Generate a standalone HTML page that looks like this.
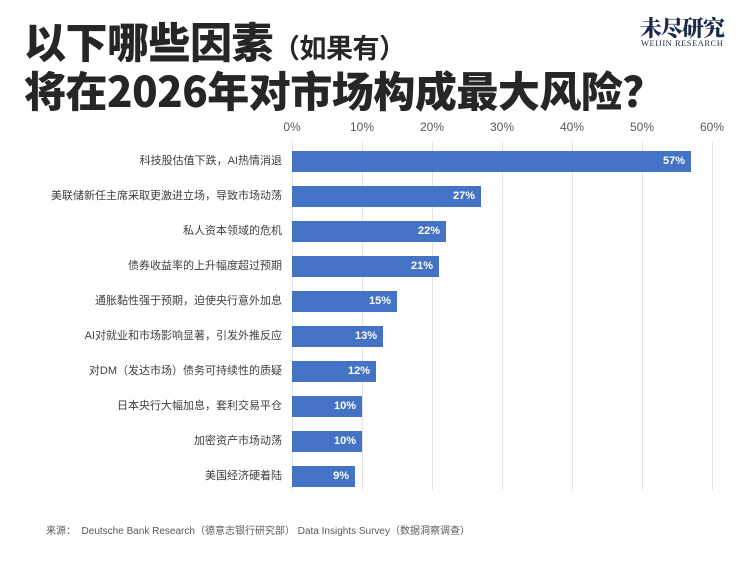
<!DOCTYPE html>
<html><head><meta charset="utf-8"><style>
body{margin:0;width:750px;height:563px;background:#fff;overflow:hidden;position:relative;font-family:"Liberation Sans","Noto Sans CJK SC",sans-serif}
.t{position:absolute;left:24px;font-weight:900;color:#262626;font-family:"Noto Sans CJK SC",sans-serif;white-space:nowrap;letter-spacing:-0.5px}
.ax{position:absolute;top:120px;font-size:12px;color:#595959;width:40px;text-align:center}
.gl{position:absolute;top:142px;width:1px;height:348px;background:#e3e3e3}
.bar{position:absolute;left:292px;height:21px;background:#4472c4;color:#fff;font-weight:bold;font-size:11px;text-align:right;line-height:21px;box-sizing:border-box;padding-right:6px}
.lb{position:absolute;right:468px;font-size:11px;color:#404040;white-space:nowrap;line-height:21px}
</style></head><body>
<div class="t" style="top:16px;font-size:42px;line-height:50px">以下哪些因素<span style="font-size:27px;font-weight:700">（如果有）</span></div>
<div class="t" style="top:65px;font-size:42px;line-height:50px">将在2026年对市场构成最大风险？</div>
<div style="position:absolute;left:640px;top:12px;font-family:'Noto Serif CJK SC',serif;font-weight:900;font-size:22px;color:#1a2a4a;letter-spacing:-1px">未尽研究</div>
<div style="position:absolute;left:641px;top:38px;font-family:'Liberation Serif',serif;font-size:8.5px;color:#1a2a4a;letter-spacing:0.5px">WEIJIN RESEARCH</div>
<div class="ax" style="left:272px">0%</div><div class="ax" style="left:342px">10%</div><div class="ax" style="left:412px">20%</div><div class="ax" style="left:482px">30%</div><div class="ax" style="left:552px">40%</div><div class="ax" style="left:622px">50%</div><div class="ax" style="left:692px">60%</div>
<div class="gl" style="left:292px"></div><div class="gl" style="left:362px"></div><div class="gl" style="left:432px"></div><div class="gl" style="left:502px"></div><div class="gl" style="left:572px"></div><div class="gl" style="left:642px"></div><div class="gl" style="left:712px"></div>
<div class="bar" style="top:151px;width:399px">57%</div><div class="lb" style="top:151px">科技股估值下跌，AI热情消退</div>
<div class="bar" style="top:186px;width:189px">27%</div><div class="lb" style="top:186px">美联储新任主席采取更激进立场，导致市场动荡</div>
<div class="bar" style="top:221px;width:154px">22%</div><div class="lb" style="top:221px">私人资本领域的危机</div>
<div class="bar" style="top:256px;width:147px">21%</div><div class="lb" style="top:256px">债券收益率的上升幅度超过预期</div>
<div class="bar" style="top:291px;width:105px">15%</div><div class="lb" style="top:291px">通胀黏性强于预期，迫使央行意外加息</div>
<div class="bar" style="top:326px;width:91px">13%</div><div class="lb" style="top:326px">AI对就业和市场影响显著，引发外推反应</div>
<div class="bar" style="top:361px;width:84px">12%</div><div class="lb" style="top:361px">对DM（发达市场）债务可持续性的质疑</div>
<div class="bar" style="top:396px;width:70px">10%</div><div class="lb" style="top:396px">日本央行大幅加息，套利交易平仓</div>
<div class="bar" style="top:431px;width:70px">10%</div><div class="lb" style="top:431px">加密资产市场动荡</div>
<div class="bar" style="top:466px;width:63px">9%</div><div class="lb" style="top:466px">美国经济硬着陆</div>
<div style="position:absolute;left:46px;top:522px;font-size:10px;color:#595959;white-space:nowrap">来源：&nbsp; Deutsche Bank Research（德意志银行研究部） Data Insights Survey（数据洞察调查）</div>
</body></html>
